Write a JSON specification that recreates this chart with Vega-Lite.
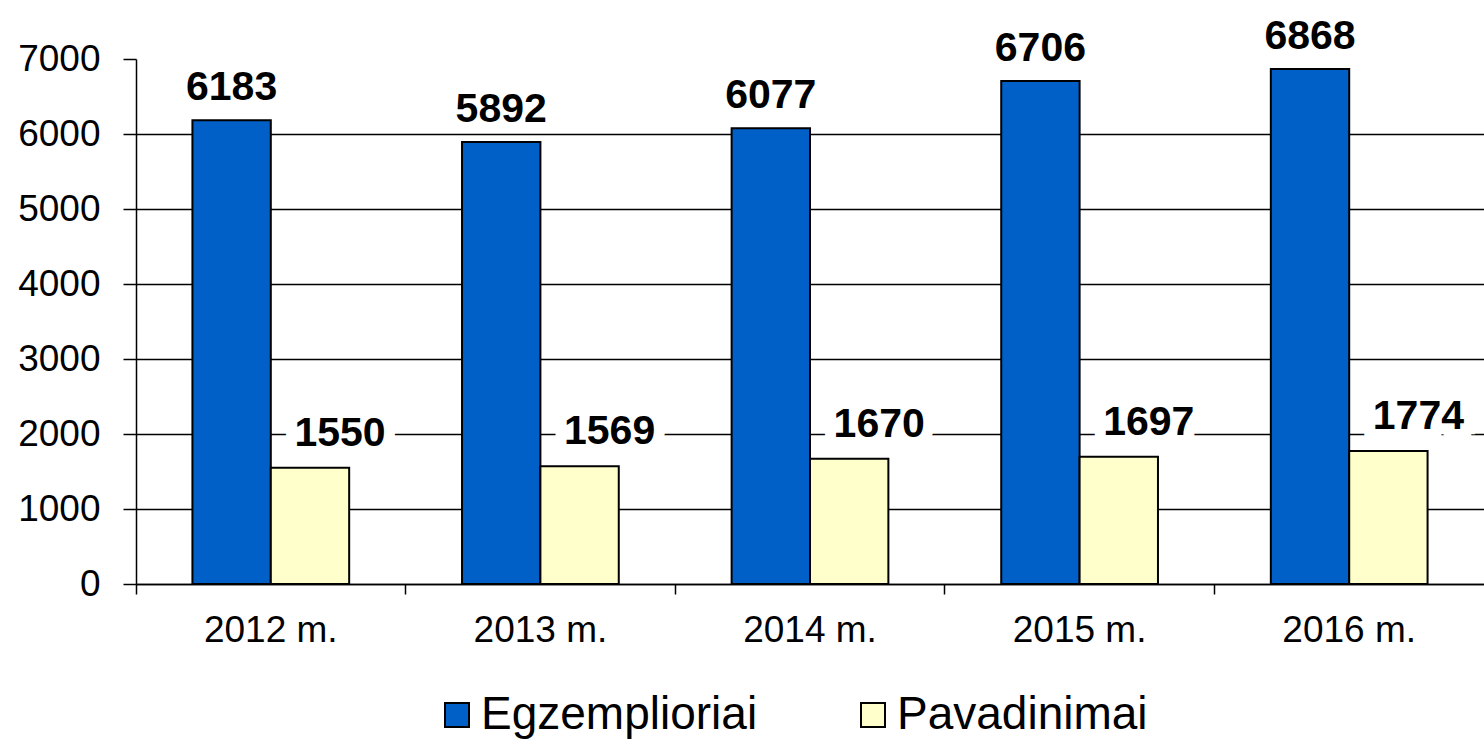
{
  "$schema": "https://vega.github.io/schema/vega-lite/v6.json",
  "width": 1348,
  "height": 525,
  "autosize": {"type": "none"},
  "padding": {"left": 136, "top": 59, "right": 0, "bottom": 156},
  "background": "white",
  "config": {
    "view": {"stroke": null},
    "font": "Liberation Sans",
    "axis": {
      "labelFont": "Liberation Sans",
      "labelFontSize": 37,
      "labelColor": "#000000",
      "domainColor": "#000000",
      "domainWidth": 1.5,
      "tickColor": "#000000",
      "tickWidth": 1.5,
      "gridColor": "#000000",
      "gridWidth": 1.5,
      "title": null
    },
    "legend": {
      "labelFont": "Liberation Sans",
      "labelFontSize": 46,
      "labelColor": "#000000",
      "labelLimit": 0,
      "symbolType": "square",
      "symbolSize": 576,
      "symbolStrokeColor": "#000000",
      "symbolStrokeWidth": 2,
      "labelOffset": 1,
      "columnPadding": 92,
      "padding": 0
    }
  },
  "data": {
    "values": [
      {"year": "2012 m.", "series": "Egzemplioriai", "value": 6183},
      {"year": "2012 m.", "series": "Pavadinimai", "value": 1550},
      {"year": "2013 m.", "series": "Egzemplioriai", "value": 5892},
      {"year": "2013 m.", "series": "Pavadinimai", "value": 1569},
      {"year": "2014 m.", "series": "Egzemplioriai", "value": 6077},
      {"year": "2014 m.", "series": "Pavadinimai", "value": 1670},
      {"year": "2015 m.", "series": "Egzemplioriai", "value": 6706},
      {"year": "2015 m.", "series": "Pavadinimai", "value": 1697},
      {"year": "2016 m.", "series": "Egzemplioriai", "value": 6868},
      {"year": "2016 m.", "series": "Pavadinimai", "value": 1774}
    ]
  },
  "encoding": {
    "x": {
      "field": "year",
      "type": "nominal",
      "sort": null,
      "scale": {"paddingInner": 0, "paddingOuter": 0},
      "axis": {
        "title": null,
        "labelAngle": 0,
        "bandPosition": 0,
        "tickSize": 10,
        "labelPadding": 18,
        "grid": false
      }
    },
    "xOffset": {
      "field": "series",
      "type": "nominal",
      "sort": ["Egzemplioriai", "Pavadinimai"],
      "scale": {"paddingInner": 0, "paddingOuter": 0.72}
    },
    "y": {
      "field": "value",
      "type": "quantitative",
      "scale": {"domain": [0, 7000], "nice": false},
      "axis": {
        "title": null,
        "format": "d",
        "values": [0, 1000, 2000, 3000, 4000, 5000, 6000, 7000],
        "tickSize": 13,
        "labelPadding": 23,
        "grid": true,
        "gridOpacity": {"condition": {"test": "datum.value >= 7000", "value": 0}, "value": 1}
      }
    }
  },
  "layer": [
    {
      "transform": [{"filter": "datum.series === 'Egzemplioriai'"}],
      "mark": {"type": "text", "font": "Liberation Sans", "fontWeight": "bold", "fontSize": 41, "baseline": "alphabetic", "dy": -20, "fill": "white", "stroke": "white", "strokeWidth": 22},
      "encoding": {"text": {"field": "value", "type": "quantitative", "format": "d"}}
    },
    {
      "transform": [{"filter": "datum.series === 'Pavadinimai'"}],
      "mark": {"type": "text", "font": "Liberation Sans", "fontWeight": "bold", "fontSize": 41, "baseline": "alphabetic", "dy": -22, "dx": 30, "fill": "white", "stroke": "white", "strokeWidth": 22},
      "encoding": {"text": {"field": "value", "type": "quantitative", "format": "d"}}
    },
    {
      "mark": {"type": "bar", "stroke": "#000000", "strokeWidth": 2},
      "encoding": {
        "color": {
          "field": "series",
          "type": "nominal",
          "scale": {"domain": ["Egzemplioriai", "Pavadinimai"], "range": ["#0060c8", "#ffffcc"]},
          "legend": {
            "title": null,
            "orient": "none",
            "direction": "horizontal",
            "legendX": 298,
            "legendY": 633
          }
        }
      }
    },
    {
      "transform": [{"filter": "datum.series === 'Egzemplioriai'"}],
      "mark": {"type": "text", "font": "Liberation Sans", "fontWeight": "bold", "fontSize": 41, "baseline": "alphabetic", "dy": -20, "fill": "#000000"},
      "encoding": {"text": {"field": "value", "type": "quantitative", "format": "d"}}
    },
    {
      "transform": [{"filter": "datum.series === 'Pavadinimai'"}],
      "mark": {"type": "text", "font": "Liberation Sans", "fontWeight": "bold", "fontSize": 41, "baseline": "alphabetic", "dy": -22, "dx": 30, "fill": "#000000"},
      "encoding": {"text": {"field": "value", "type": "quantitative", "format": "d"}}
    }
  ]
}
